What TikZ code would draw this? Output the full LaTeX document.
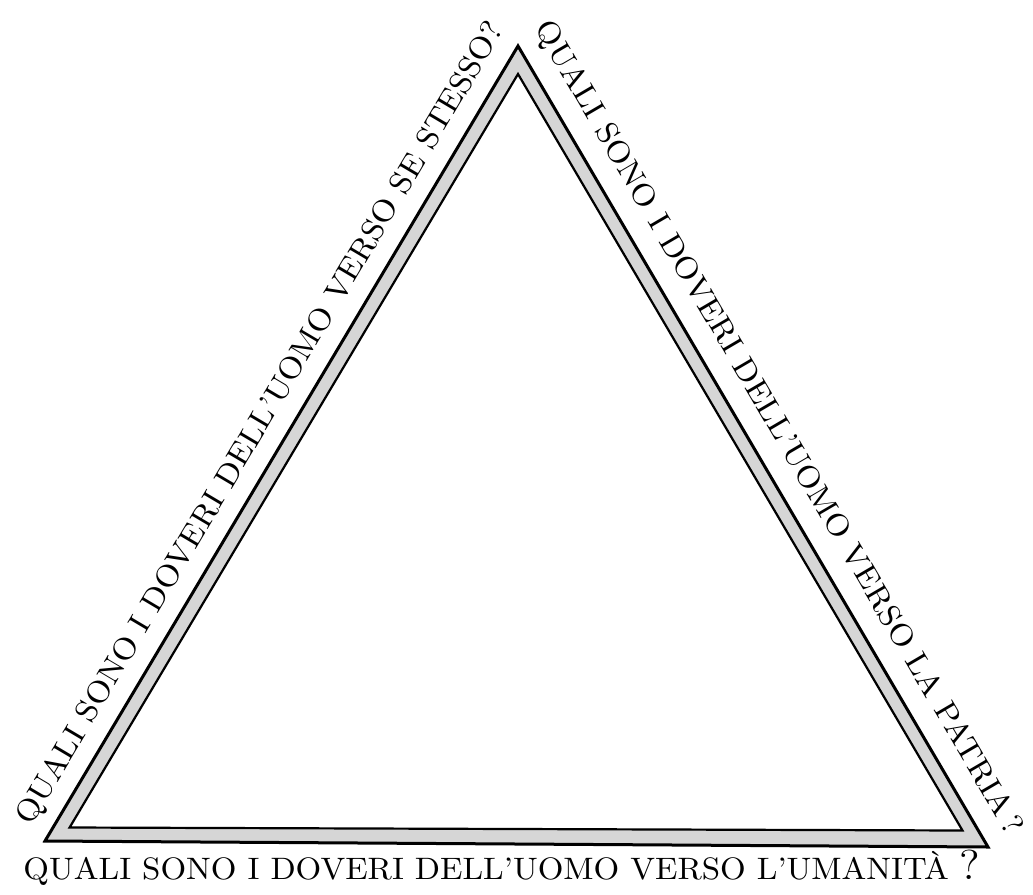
\documentclass[tikz,border=0pt]{standalone}
\usepackage{fontspec}
\usepackage{tikz}

\begin{document}
\begin{tikzpicture}[
  x=1pt,y=-1pt,
  rim/.style={draw=black,line width=3pt,line join=miter},
  inrim/.style={draw=black,line width=2.2pt,line join=miter},
  band/.style={fill=black!16,even odd rule},
  caption/.style={inner sep=0pt,text height=6.83pt,text depth=0pt,
                  xscale=3.3,yscale=3.1,font=\fontsize{10}{12}\selectfont}
]
\useasboundingbox (0,0) rectangle (1033,894);
% outer and inner triangle
\coordinate (top) at (518,46);
\coordinate (left) at (45,841);
\coordinate (right) at (988,847);
\coordinate (intop) at (518,74);
\coordinate (inleft) at (69.6,827.5);
\coordinate (inright) at (962.5,830.5);
\path[band] (top) -- (left) -- (right) -- cycle
  (intop) -- (inleft) -- (inright) -- cycle;
\draw[rim] (top) -- (left) -- (right) -- cycle;
\draw[inrim] (intop) -- (inleft) -- (inright) -- cycle;
% the three questions
\node[rotate=59.31,caption] (self) at (259,422.5)
  {QUALI SONO I DOVERI DELL'UOMO VERSO SE STESSO?};
\node[rotate=-59.66,caption] (country) at (780,427)
  {QUALI SONO I DOVERI DELL'UOMO VERSO LA PATRIA\,?};
\node[caption] (mankind) at (502,869)
  {QUALI SONO I DOVERI DELL'UOMO VERSO L'UMANITÀ {\fontsize{13.5}{12}\selectfont ?}};
\end{tikzpicture}
\end{document}
